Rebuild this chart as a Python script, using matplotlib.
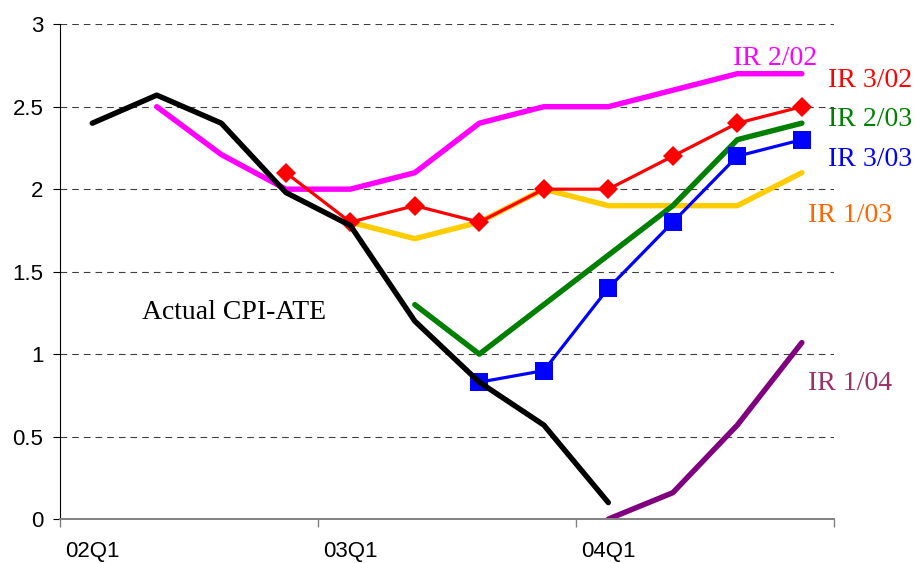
import numpy as np
import matplotlib.pyplot as plt

# quarters 02Q1 .. 04Q4
quarters = ['02Q1', '02Q2', '02Q3', '02Q4', '03Q1', '03Q2', '03Q3', '03Q4',
            '04Q1', '04Q2', '04Q3', '04Q4']
tick_labels = ['02Q1', '03Q1', '04Q1']

nan = np.nan
actual = [2.40, 2.57, 2.40, 1.98, 1.78, 1.20, 0.83, 0.57, 0.10, nan, nan, nan]
ir_2_02 = [nan, 2.50, 2.21, 2.00, 2.00, 2.10, 2.40, 2.50, 2.50, 2.60, 2.70, 2.70]
ir_3_02 = [nan, nan, nan, 2.10, 1.80, 1.90, 1.80, 2.00, 2.00, 2.20, 2.40, 2.50]
ir_1_03 = [nan, nan, nan, nan, 1.80, 1.70, 1.80, 2.00, 1.90, 1.90, 1.90, 2.10]
ir_2_03 = [nan, nan, nan, nan, nan, 1.30, 1.00, 1.30, 1.60, 1.90, 2.30, 2.40]
ir_3_03 = [nan, nan, nan, nan, nan, nan, 0.83, 0.90, 1.40, 1.80, 2.20, 2.30]
ir_1_04 = [nan, nan, nan, nan, nan, nan, nan, nan, 0.00, 0.16, 0.57, 1.07]

x = np.arange(len(quarters))

fig = plt.figure(figsize=(9.15, 5.63), dpi=100)
ax = fig.add_axes([0.0656, 0.078, 0.846, 0.879])

ax.plot(x, actual, color='black', lw=3.9, solid_capstyle='round', zorder=5)
ax.plot(x, ir_2_02, color='#FF00FF', lw=3.9, solid_capstyle='round')
ax.plot(x, ir_1_03, color='#FFCC00', lw=3.9, solid_capstyle='round')
ax.plot(x, ir_2_03, color='#008000', lw=3.9, solid_capstyle='round')
ax.plot(x, ir_3_02, color='#FF0000', lw=2.3, marker='D', ms=10, mew=0)
ax.plot(x, ir_3_03, color='#0000FF', lw=2.3, marker='s', ms=12.5, mew=0)
ax.plot(x, ir_1_04, color='#800080', lw=3.9, solid_capstyle='round')

ax.set_xlim(-0.5, 11.5)
ax.set_ylim(0, 3)
ax.set_yticks(np.arange(0, 3.01, 0.5))
ax.set_yticklabels(['0', '0.5', '1', '1.5', '2', '2.5', '3'])
ax.grid(axis='y', color='#404040', ls=(0, (6, 4.5)), lw=0.8)

ax.set_xticks([-0.5, 3.5, 7.5, 11.5])
ax.set_xticklabels([])
ax.set_xticks([0, 4, 8], minor=True)
ax.set_xticklabels(tick_labels, minor=True)
ax.tick_params(axis='x', which='major', length=6, color='#808080', width=1)
ax.tick_params(axis='x', which='minor', length=0, pad=16, labelsize=16)
ax.tick_params(axis='y', length=5, width=0.8, pad=7, labelsize=16)
for lbl in ax.get_xticklabels(minor=True) + ax.get_yticklabels():
    lbl.set_family('Liberation Sans')

ax.spines['top'].set_visible(False)
ax.spines['right'].set_visible(False)
ax.spines['bottom'].set_color('#808080')
ax.spines['bottom'].set_linewidth(1.4)
ax.spines['left'].set_linewidth(0.8)

serif = dict(family='Liberation Serif', fontsize=20, va='center', ha='left')
ax.text(0.77, 1.25, 'Actual CPI-ATE', color='black', **serif)
ax.text(9.93, 2.79, 'IR 2/02', color='#FF00FF', **serif)
ax.text(11.41, 2.66, 'IR 3/02', color='#FF0000', **serif)
ax.text(11.41, 2.42, 'IR 2/03', color='#008000', **serif)
ax.text(11.41, 2.18, 'IR 3/03', color='#0000FF', **serif)
ax.text(11.1, 1.84, 'IR 1/03', color='#FF6600', **serif)
ax.text(11.1, 0.82, 'IR 1/04', color='#993366', **serif)

fig.savefig('out.png', dpi=100)
